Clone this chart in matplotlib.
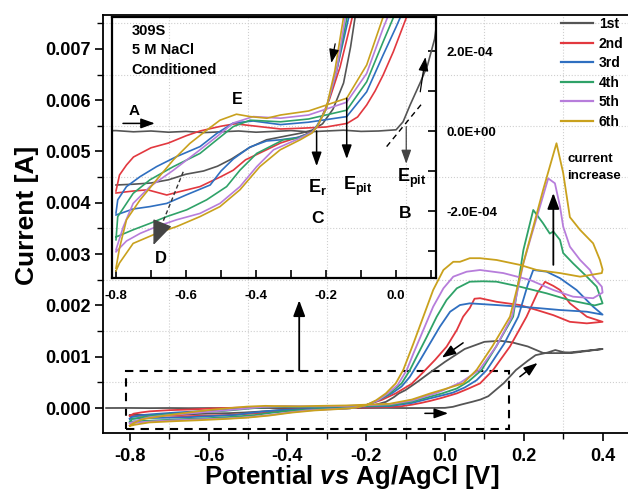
import numpy as np
import matplotlib
matplotlib.use('Agg')
import matplotlib.pyplot as plt
from matplotlib.patches import Rectangle
from matplotlib.ticker import MultipleLocator, FuncFormatter

plt.rcParams['font.family'] = ['Liberation Sans', 'DejaVu Sans']
plt.rcParams['font.weight'] = 'bold'
plt.rcParams['axes.unicode_minus'] = False
plt.rcParams['mathtext.fontset'] = 'custom'
plt.rcParams['mathtext.rm'] = 'Liberation Sans:bold'
plt.rcParams['mathtext.bf'] = 'Liberation Sans:bold'
plt.rcParams['mathtext.it'] = 'Liberation Sans:italic:bold'

# ---- data: potential [V] and current [uA], forward / reverse branch per cycle ----
c1_fwd_v = [-0.86, -0.80, -0.75, -0.70, -0.65, -0.60, -0.55, -0.50, -0.45, -0.40, -0.35, -0.30,
            -0.25, -0.20, -0.15, -0.10, -0.05, 0.00, 0.02, 0.04, 0.07, 0.09, 0.11, 0.15, 0.18,
            0.21, 0.23, 0.26, 0.28, 0.30, 0.32, 0.35, 0.40]
c1_fwd_i = [0, 1, -2, 0, -3, -1, -4, -2, 0, -3, -1, 1, -2, 0, 2, -1, 0, 3, 23, 65, 123, 165,
            230, 490, 740, 920, 1030, 1080, 1130, 1090, 1070, 1100, 1150]
c1_rev_v = [0.40, 0.35, 0.30, 0.25, 0.21, 0.17, 0.14, 0.10, 0.05, 0.00, -0.04, -0.07, -0.10,
            -0.117, -0.13, -0.15, -0.18, -0.21, -0.24, -0.27, -0.30, -0.37, -0.42, -0.47, -0.51,
            -0.55, -0.60, -0.65, -0.70, -0.75, -0.80]
c1_rev_i = [1150, 1110, 1070, 1070, 1200, 1280, 1310, 1290, 1150, 900, 680, 510, 350, 285, 210,
            120, 55, 18, 2, -5, -10, -22, -42, -70, -88, -100, -108, -122, -130, -133, -135]

c2_fwd_v = [-0.80, -0.79, -0.77, -0.75, -0.70, -0.65, -0.60, -0.56, -0.50, -0.46, -0.40, -0.33,
            -0.27, -0.20, -0.14, -0.11, -0.084, -0.06, -0.037, -0.008, 0.03, 0.06, 0.089, 0.122,
            0.165, 0.207, 0.235, 0.254, 0.275, 0.292, 0.317, 0.36, 0.40]
c2_fwd_i = [-150, -110, -85, -65, -42, -30, -12, 0, 12, 18, 12, 5, 7, 10, 19, 35, 65, 100, 140,
            198, 285, 380, 480, 740, 1200, 1780, 2250, 2460, 2380, 2300, 2040, 1780, 1680]
c2_rev_v = [0.40, 0.36, 0.317, 0.275, 0.233, 0.19, 0.131, 0.089, 0.075, 0.063, 0.046, 0.03,
            0.004, -0.025, -0.055, -0.085, -0.125, -0.16, -0.19, -0.21, -0.225, -0.24, -0.274,
            -0.33, -0.37, -0.43, -0.465, -0.50, -0.56, -0.62, -0.655, -0.71, -0.75, -0.80]
c2_rev_i = [1680, 1650, 1680, 1810, 1910, 2007, 2070, 2140, 2130, 1950, 1780, 1520, 1195, 940,
            700, 470, 285, 160, 80, 40, 10, -2, -14, -30, -47, -72, -98, -114, -139, -152, -160,
            -147, -150, -155]

c3_fwd_v = [-0.80, -0.795, -0.77, -0.731, -0.684, -0.627, -0.56, -0.512, -0.465, -0.408, -0.33,
            -0.25, -0.141, -0.084, -0.037, 0.0, 0.02, 0.05, 0.08, 0.106, 0.15, 0.186, 0.21,
            0.224, 0.258, 0.292, 0.334, 0.376, 0.40]
c3_fwd_i = [-205, -172, -139, -114, -89, -64, -39, -6, 20, 25, 16, 22, 36, 98, 190, 260, 300,
            400, 540, 740, 1250, 1780, 2400, 2690, 2657, 2530, 2300, 1975, 1820]
c3_rev_v = [0.40, 0.36, 0.292, 0.233, 0.19, 0.131, 0.063, 0.038, 0.013, -0.013, -0.038, -0.063,
            -0.089, -0.11, -0.135, -0.17, -0.20, -0.225, -0.24, -0.28, -0.33, -0.37, -0.417,
            -0.465, -0.50, -0.531, -0.60, -0.655, -0.703, -0.751, -0.80]
c3_rev_i = [1820, 1877, 1910, 1950, 1975, 2007, 2040, 2007, 1877, 1585, 1260, 935, 610, 420, 285,
            150, 55, 15, -3, -16, -22, -25, -40, -70, -100, -135, -160, -181, -189, -195, -210]

c4_fwd_v = [-0.80, -0.795, -0.751, -0.703, -0.636, -0.56, -0.512, -0.465, -0.417, -0.33, -0.25,
            -0.141, -0.084, -0.037, -0.008, 0.03, 0.06, 0.093, 0.13, 0.173, 0.199, 0.224, 0.249,
            0.266, 0.275, 0.292, 0.30, 0.325, 0.36, 0.385, 0.40]
c4_fwd_i = [-272, -214, -156, -122, -89, -56, -22, 11, 27, 23, 30, 52, 123, 223, 283, 380, 520,
            740, 1200, 1780, 3080, 3860, 3600, 3400, 3440, 3275, 3020, 2820, 2560, 2365, 2040]
c4_rev_v = [0.40, 0.38, 0.317, 0.258, 0.19, 0.131, 0.097, 0.063, 0.03, 0.004, -0.021, -0.046,
            -0.072, -0.089, -0.11, -0.14, -0.17, -0.20, -0.225, -0.24, -0.28, -0.322, -0.398,
            -0.446, -0.484, -0.541, -0.598, -0.655, -0.703, -0.751, -0.80]
c4_rev_i = [2040, 2000, 2100, 2235, 2365, 2462, 2470, 2462, 2333, 2105, 1780, 1390, 1000, 740,
            480, 285, 150, 55, 12, -3, -18, -22, -56, -98, -139, -172, -197, -214, -231, -247, -265]

c5_fwd_v = [-0.80, -0.779, -0.751, -0.703, -0.636, -0.56, -0.512, -0.465, -0.408, -0.33, -0.25,
            -0.141, -0.084, -0.037, -0.024, 0.0, 0.04, 0.087, 0.13, 0.17, 0.199, 0.216, 0.241,
            0.262, 0.279, 0.292, 0.30, 0.317, 0.343, 0.368, 0.376, 0.398]
c5_fwd_i = [-297, -239, -181, -139, -98, -47, -14, 20, 36, 32, 40, 72, 144, 257, 285, 360, 500,
            740, 1200, 1780, 2820, 3275, 3925, 4475, 4380, 3925, 3535, 3145, 2885, 2690, 2560, 2365]
c5_rev_v = [0.40, 0.376, 0.325, 0.275, 0.216, 0.148, 0.089, 0.055, 0.021, -0.004, -0.03, -0.055,
            -0.08, -0.097, -0.12, -0.145, -0.17, -0.20, -0.225, -0.24, -0.28, -0.35, -0.398,
            -0.446, -0.503, -0.56, -0.627, -0.684, -0.731, -0.77, -0.80]
c5_rev_i = [2250, 2140, 2170, 2300, 2495, 2630, 2690, 2657, 2560, 2333, 1975, 1520, 1066, 740,
            450, 285, 150, 55, 12, -3, -20, -47, -89, -139, -181, -206, -222, -239, -256, -275, -302]

c6_fwd_v = [-0.80, -0.79, -0.77, -0.731, -0.684, -0.636, -0.589, -0.541, -0.503, -0.456, -0.417,
            -0.369, -0.33, -0.25, -0.141, -0.084, -0.037, 0.0, 0.046, 0.08, 0.12, 0.165, 0.199,
            0.224, 0.249, 0.283, 0.30, 0.317, 0.343, 0.376, 0.393, 0.40]
c6_fwd_i = [-343, -293, -222, -172, -122, -72, -31, 2, 27, 42, 36, 32, 40, 50, 82, 165, 285, 370,
            480, 740, 1200, 1780, 2830, 3530, 4250, 5160, 4580, 3720, 3470, 3210, 2890, 2700]
c6_rev_v = [0.40, 0.398, 0.343, 0.292, 0.233, 0.19, 0.131, 0.089, 0.063, 0.038, 0.021, -0.004,
            -0.03, -0.055, -0.08, -0.106, -0.125, -0.15, -0.175, -0.20, -0.225, -0.24, -0.274,
            -0.331, -0.389, -0.446, -0.503, -0.56, -0.627, -0.684, -0.751, -0.79, -0.80]
c6_rev_i = [2700, 2630, 2560, 2630, 2690, 2790, 2885, 2920, 2920, 2850, 2850, 2690, 2300, 1780,
            1260, 740, 480, 285, 150, 55, 12, -5, -22, -47, -89, -147, -189, -214, -239, -256,
            -281, -330, -350]

labels = ['1st', '2nd', '3rd', '4th', '5th', '6th']
colors = ['#555555', '#e2383f', '#2f6fc0', '#2fa268', '#b77ddb', '#c9a11d']

cycles = [
    (c1_fwd_v, c1_fwd_i, c1_rev_v, c1_rev_i),
    (c2_fwd_v, c2_fwd_i, c2_rev_v, c2_rev_i),
    (c3_fwd_v, c3_fwd_i, c3_rev_v, c3_rev_i),
    (c4_fwd_v, c4_fwd_i, c4_rev_v, c4_rev_i),
    (c5_fwd_v, c5_fwd_i, c5_rev_v, c5_rev_i),
    (c6_fwd_v, c6_fwd_i, c6_rev_v, c6_rev_i),
]

W, H = 628, 492
fig = plt.figure(figsize=(W / 100, H / 100), dpi=100)

''' main axes '''
ax = fig.add_axes([103 / W, 59 / H, 525 / W, 418 / H])
ax.set_xlim(-0.868, 0.4645)
ax.set_ylim(-0.000487, 0.00766)

for (fv, fi, rv, ri), c, lab in zip(cycles, colors, labels):
    v = np.array(fv + rv)
    i = np.array(fi + ri) * 1e-6
    ax.plot(v, i, color=c, lw=1.3, label=lab)

ax.xaxis.set_major_locator(MultipleLocator(0.2))
ax.xaxis.set_minor_locator(MultipleLocator(0.1))
ax.yaxis.set_major_locator(MultipleLocator(0.001))
ax.yaxis.set_minor_locator(MultipleLocator(0.0005))
ax.yaxis.set_major_formatter(FuncFormatter(lambda y, _: '%.3f' % y))
ax.xaxis.set_major_formatter(FuncFormatter(lambda x, _: '%.1f' % x))
ax.tick_params(which='major', direction='out', length=6, width=1.2, labelsize=13, pad=3)
ax.tick_params(which='minor', direction='out', length=4, width=1.0)
ax.tick_params(axis='x', which='major', pad=4.5)
ax.spines['right'].set_visible(False)
for s in ['left', 'bottom', 'top']:
    ax.spines[s].set_linewidth(1.3)
ax.grid(which='minor', color='#cfcfcf', linestyle=':', linewidth=0.8)
ax.set_axisbelow(True)

fig.text(352 / W, 1 - 484 / H, r'Potential $\mathit{vs}$ Ag/AgCl [V]', fontsize=18.5,
         fontweight='bold', ha='center', va='baseline')
fig.text(27 / W, 1 - 215 / H, 'Current [A]', fontsize=19, fontweight='bold',
         rotation=90, ha='center', va='center')

leg = ax.legend(loc='upper left', bbox_to_anchor=(561 / W, 1 - 17 / H),
                bbox_transform=fig.transFigure, frameon=False, fontsize=10,
                handlelength=2.3, handletextpad=0.43, labelspacing=0.4, borderpad=0,
                borderaxespad=0)
for lh in leg.get_lines():
    lh.set_linewidth(1.6)

# zoom window and arrows in the main axes
ax.add_patch(Rectangle((-0.81, -0.0004), 0.973, 0.00113, fill=False, ec='k',
                       lw=1.5, ls=(0, (4, 3))))
arr = dict(arrowstyle='-|>,head_width=0.3,head_length=0.8', color='k', lw=1.3,
           shrinkA=0, shrinkB=0, mutation_scale=12)
ax.annotate('', xy=(-0.37, 0.0021), xytext=(-0.37, 0.00073), arrowprops=arr)
ax.annotate('', xy=(0.275, 0.00419), xytext=(0.275, 0.00279), arrowprops=arr)
small = dict(arrowstyle='-|>,head_width=0.25,head_length=0.7', color='k', lw=1.1,
             shrinkA=0, shrinkB=0, mutation_scale=12)
ax.annotate('', xy=(-0.008, 0.00098), xytext=(0.046, 0.00127), arrowprops=small)
ax.annotate('', xy=(0.008, -0.000104), xytext=(-0.051, -0.000104), arrowprops=small)
ax.annotate('', xy=(0.235, 0.00088), xytext=(0.19, 0.00061), arrowprops=small)
ax.text(0.31, 0.00498, 'current', fontsize=9.5, fontweight='bold', ha='left', va='top')
ax.text(0.31, 0.00463, 'increase', fontsize=9.5, fontweight='bold', ha='left', va='top')

''' inset '''
axi = fig.add_axes([112 / W, (H - 278) / H, 324 / W, 261 / H], facecolor='none')
axi.set_xlim(-0.8114, 0.114)
axi.set_ylim(-3.675e-4, 2.85e-4)
for (fv, fi, rv, ri), c in zip(cycles, colors):
    v = np.array(fv + rv)
    i = np.array(fi + ri) * 1e-6
    axi.plot(v, i, color=c, lw=1.2)

axi.xaxis.set_major_locator(MultipleLocator(0.2))
axi.xaxis.set_minor_locator(MultipleLocator(0.1))
axi.xaxis.set_major_formatter(FuncFormatter(lambda x, _: '%.1f' % x))
axi.yaxis.tick_right()
axi.yaxis.set_major_locator(MultipleLocator(2e-4))
axi.yaxis.set_minor_locator(MultipleLocator(1e-4))
axi.yaxis.set_major_formatter(FuncFormatter(lambda y, _: '%.1E' % y))
axi.tick_params(which='both', direction='in', length=6, width=1.2, labelsize=9.5)
axi.tick_params(axis='x', which='both', pad=8.5)
axi.tick_params(axis='y', which='both', pad=7.5)
for s in axi.spines.values():
    s.set_linewidth(1.6)

axi.text(0.061, 0.975, '309S\n5 M NaCl\nConditioned', transform=axi.transAxes,
         fontsize=10.5, fontweight='bold', ha='left', va='top', linespacing=1.5)
axi.text(-0.749, 40e-6, 'A', fontsize=11, fontweight='bold', ha='center', va='baseline')
axi.text(-0.453, 67e-6, 'E', fontsize=11.5, fontweight='bold', ha='center', va='baseline')
axi.text(-0.251, -152e-6, r'$\mathbf{E_r}$', fontsize=13, ha='left', va='baseline')
axi.text(-0.225, -231e-6, 'C', fontsize=12.5, fontweight='bold', ha='center', va='baseline')
axi.text(-0.151, -148e-6, r'$\mathbf{E_{pit}}$', fontsize=13, ha='left', va='baseline')
axi.text(0.003, -127e-6, r'$\mathbf{E_{pit}}$', fontsize=13, ha='left', va='baseline')
axi.text(0.026, -217e-6, 'B', fontsize=12.5, fontweight='bold', ha='center', va='baseline')
axi.text(-0.671, -330e-6, 'D', fontsize=12, fontweight='bold', ha='center', va='baseline')

axi.annotate('', xy=(-0.689, 19e-6), xytext=(-0.78, 19e-6), arrowprops=small)
axi.annotate('', xy=(-0.227, -88e-6), xytext=(-0.227, 0), arrowprops=small)
axi.annotate('', xy=(-0.141, -70e-6), xytext=(-0.141, 82e-6), arrowprops=small)
axi.annotate('', xy=(0.029, -82e-6), xytext=(0.029, 11e-6),
             arrowprops=dict(small, color='#444444', lw=0.9))
axi.annotate('', xy=(-0.185, 170e-6), xytext=(-0.174, 218e-6),
             arrowprops=dict(small, lw=0.9))
axi.annotate('', xy=(0.084, 185e-6), xytext=(0.069, 98e-6),
             arrowprops=dict(small, lw=0.9))
axi.plot([-0.027, 0.078], [-39e-6, 73e-6], color='k', lw=1.0, ls=(0, (4, 3)))
axi.plot([-0.608, -0.672], [-102e-6, -240e-6], color='#333333', lw=1.0, ls=(0, (3, 2)))
axi.annotate('', xy=(-0.693, -285e-6), xytext=(-0.676, -248e-6),
             arrowprops=dict(arrowstyle='-|>,head_width=0.45,head_length=1.1',
                             color='#444444', lw=1.0, shrinkA=0, shrinkB=0, mutation_scale=14))

fig.savefig('out.png', dpi=100)
